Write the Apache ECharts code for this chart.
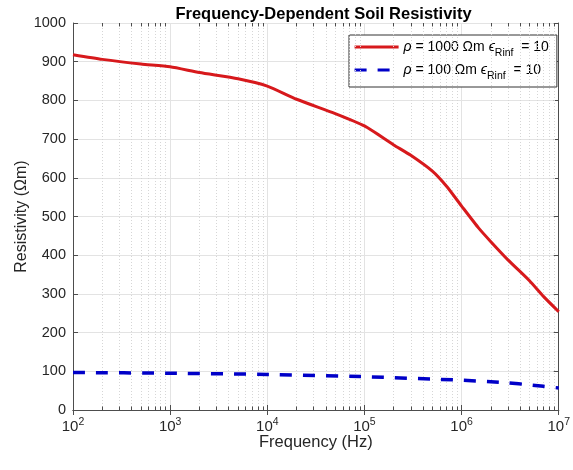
<!DOCTYPE html>
<html><head><meta charset="utf-8">
<script src="https://cdn.jsdelivr.net/npm/echarts@6/dist/echarts.min.js"></script>
<style>html,body{margin:0;padding:0;background:#fff}#c{width:573px;height:470px}</style>
</head><body><div id="c"></div>
<script>
// ---- data ----
const freqRed = [1e2, 2e2, 5e2, 1e3, 2e3, 5e3, 1e4, 2e4, 5e4, 1e5, 2e5, 3e5, 5e5, 7e5, 1e6, 1.5e6, 2e6, 3e6, 5e6, 7e6, 1e7];
const resRed  = [918, 906, 894, 887, 872, 856, 837, 803, 766, 734, 685, 658, 617, 578, 527, 470, 435, 388, 334, 293, 254];
const freqBlue = [1e2, 1e3, 1e4, 1e5, 1e6, 2e6, 3e6, 5e6, 1e7];
const resBlue  = [97, 95, 92, 86, 77, 73, 70, 65, 57];
const nameRed = 'rho1000';
const nameBlue = 'rho100';
const legendRed = ['ρ', ' = 1000 Ωm ', 'ϵ', 'Rinf', '  = 10'];
const legendBlue = ['ρ', ' = 100 Ωm ', 'ϵ', 'Rinf', '  = 10'];
const titleText = 'Frequency-Dependent Soil Resistivity';
const xName = 'Frequency (Hz)';
const yName = 'Resistivity (Ωm)';
const xMin = 1e2, xMax = 1e7;
const yMin = 0, yMax = 1000, yStep = 100;
const minorMult = [2, 3, 4, 5, 6, 7, 8, 9];

// ---- build ----
const FONT = 'Liberation Sans, Arial, sans-serif';
const TXT = '#262626';
const AX = '#4d4d4d';
const RED = '#d7191c';
const BLUE = '#0000c8';
const minorFreqs = [];
for (let d = Math.log10(xMin); d < Math.log10(xMax); d++) {
  minorMult.forEach(m => minorFreqs.push(m * Math.pow(10, d)));
}
const minorGrid = minorFreqs.map(f => ({ xAxis: f }));
const tickLenData = 9;
const minorTicks = [];
minorFreqs.forEach(f => {
  minorTicks.push([{ coord: [f, yMin] }, { coord: [f, yMin + tickLenData] }]);
  minorTicks.push([{ coord: [f, yMax] }, { coord: [f, yMax - tickLenData] }]);
});
const legendMap = {};
legendMap[nameRed] = legendRed;
legendMap[nameBlue] = legendBlue;

const chart = echarts.init(document.getElementById('c'), null, { renderer: 'canvas' });
const axisLine = { show: true, lineStyle: { color: AX, width: 1 } };
chart.setOption({
  animation: false,
  backgroundColor: '#fff',
  title: {
    text: titleText, left: 318.5, top: 1, textAlign: 'center',
    textStyle: { fontFamily: FONT, fontSize: 16.5, fontWeight: 'bold', color: '#000' }
  },
  grid: { left: 73, right: 9, top: 23, bottom: 60, containLabel: false },
  legend: {
    data: [nameRed, nameBlue],
    orient: 'vertical', left: 349, top: 35,
    itemWidth: 44, itemHeight: 14, itemGap: 4,
    padding: [5, 8, 5, 4],
    itemStyle: { color: 'rgba(0,0,0,0)', borderColor: 'rgba(0,0,0,0)', borderWidth: 0, opacity: 0 },
    lineStyle: { width: 3.2 },
    borderColor: '#333', borderWidth: 1, backgroundColor: '#fff',
    formatter: n => { const p = legendMap[n]; return '{g|' + p[0] + '}{t|' + p[1] + '}{g|' + p[2] + '}{s|' + p[3] + '}{t|' + p[4] + '}'; },
    textStyle: {
      fontFamily: FONT, color: '#000',
      rich: {
        t: { fontFamily: FONT, fontSize: 14, color: '#000', lineHeight: 24 },
        g: { fontFamily: FONT, fontSize: 14, color: '#000', fontStyle: 'italic', lineHeight: 24 },
        s: { fontFamily: FONT, fontSize: 10.5, color: '#000', verticalAlign: 'bottom' }
      }
    }
  },
  xAxis: [{
    type: 'log', logBase: 10, min: xMin, max: xMax,
    name: xName, nameLocation: 'middle', nameGap: 24, nameMoveOverlap: false,
    nameTextStyle: { fontFamily: FONT, fontSize: 16.5, color: TXT },
    axisLine: axisLine,
    axisTick: { show: true, inside: true, length: 5, lineStyle: { color: AX } },
    axisLabel: {
      margin: 7, color: TXT, showMaxLabel: true, showMinLabel: true,
      formatter: v => '{b|10}{e|' + Math.round(Math.log10(v)) + '}',
      rich: {
        b: { fontFamily: FONT, fontSize: 15, color: TXT, lineHeight: 20 },
        e: { fontFamily: FONT, fontSize: 10.5, color: TXT, verticalAlign: 'top' }
      }
    },
    splitLine: { show: true, lineStyle: { color: '#e3e3e3', width: 1 } }
  }, {
    type: 'log', logBase: 10, min: xMin, max: xMax, position: 'top',
    axisLine: axisLine,
    axisTick: { show: true, inside: true, length: 5, lineStyle: { color: AX } },
    axisLabel: { show: false }, splitLine: { show: false }
  }],
  yAxis: [{
    type: 'value', min: yMin, max: yMax, interval: yStep,
    name: yName, nameLocation: 'middle', nameGap: 43, nameRotate: 90, nameMoveOverlap: false,
    nameTextStyle: { fontFamily: FONT, fontSize: 16, color: TXT },
    axisLine: axisLine,
    axisTick: { show: true, inside: true, length: 5, lineStyle: { color: AX } },
    axisLabel: { margin: 7, color: TXT, fontFamily: FONT, fontSize: 14.5, formatter: v => String(v) },
    splitLine: { show: true, lineStyle: { color: '#e3e3e3', width: 1 } }
  }, {
    type: 'value', min: yMin, max: yMax, interval: yStep, position: 'right',
    axisLine: axisLine,
    axisTick: { show: true, inside: true, length: 5, lineStyle: { color: AX } },
    axisLabel: { show: false }, splitLine: { show: false }
  }],
  series: [{
    name: 'minorGrid', type: 'line', data: [], silent: true, z: 1,
    markLine: {
      silent: true, symbol: ['none', 'none'], label: { show: false }, animation: false,
      lineStyle: { color: '#d6d6d6', type: [1, 2], width: 1 },
      emphasis: { disabled: true },
      data: minorGrid
    }
  }, {
    name: 'minorTicks', type: 'line', data: [], silent: true, z: 3,
    markLine: {
      silent: true, symbol: ['none', 'none'], label: { show: false }, animation: false,
      lineStyle: { color: AX, type: 'solid', width: 1 },
      emphasis: { disabled: true },
      data: minorTicks
    }
  }, {
    name: nameRed, type: 'line', smooth: 0.2, showSymbol: false, symbol: 'none', z: 5,
    data: freqRed.map((f, i) => [f, resRed[i]]),
    lineStyle: { color: RED, width: 3 }, itemStyle: { color: RED }
  }, {
    name: nameBlue, type: 'line', smooth: 0.2, showSymbol: false, symbol: 'none', z: 5,
    data: freqBlue.map((f, i) => [f, resBlue[i]]),
    lineStyle: { color: BLUE, width: 3.5, type: [12, 11] }, itemStyle: { color: BLUE }
  }]
});
</script></body></html>
